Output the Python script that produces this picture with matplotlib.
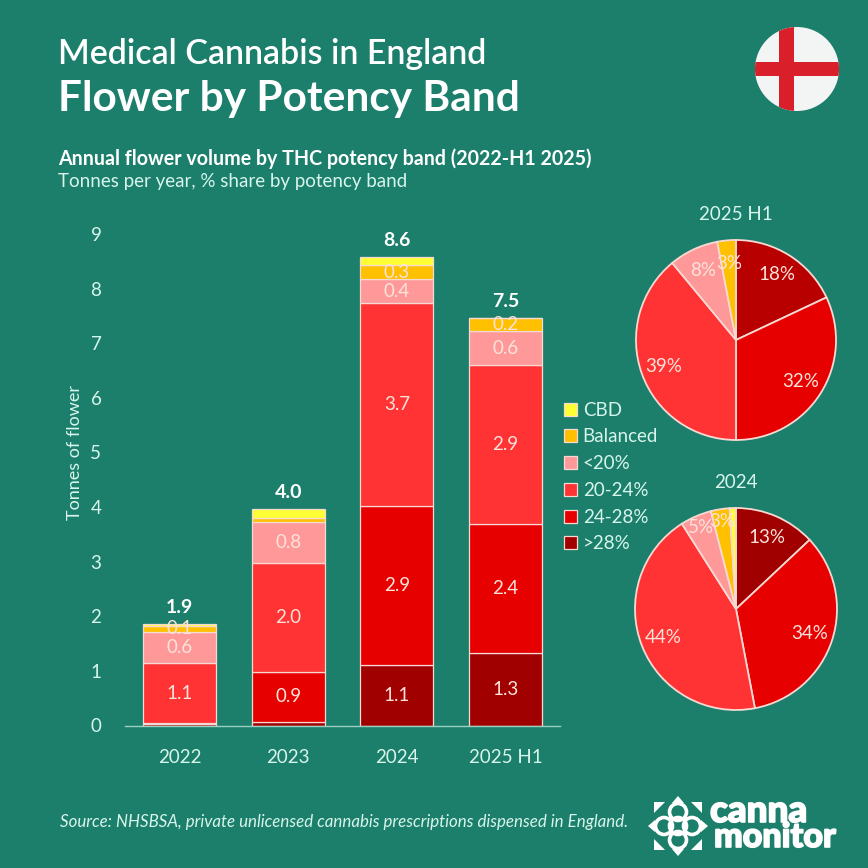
# -*- coding: utf-8 -*-
"""Medical cannabis flower volume in England, by THC potency band: stacked bars plus two share pies."""

import numpy as np
import matplotlib
matplotlib.use("Agg")
import matplotlib.pyplot as plt
import matplotlib.patheffects as pe
from matplotlib.patches import Circle, Polygon, Rectangle

# ---- data ----
YEARS = ["2022", "2023", "2024", "2025 H1"]
BANDS = [">28%", "24-28%", "20-24%", "<20%", "Balanced", "CBD"]

OVER_28 = [0.03, 0.07, 1.11, 1.33]
BAND_24_28 = [0.02, 0.91, 2.91, 2.36]
BAND_20_24 = [1.09, 1.99, 3.72, 2.91]
UNDER_20 = [0.58, 0.75, 0.43, 0.62]
BALANCED = [0.10, 0.08, 0.26, 0.24]
CBD = [0.03, 0.16, 0.14, 0.00]

PIE_2025 = [18, 32, 39, 8, 3]
PIE_2024 = [13, 34, 44, 5, 3, 1]

YTICKS = list(range(10))

# ---- style ----
BG = "#1B7F6B"
MINT = "#D8F5EC"
EDGE = "#F6D9D3"
LABEL = "#FBE3DC"
BAND_COLORS = ["#A00000", "#E60000", "#FF3333", "#FF9999", "#FFC000", "#FFFF33"]
PIE_2025_COLORS = ["#B80000", "#E60000", "#FF3333", "#FF9999", "#FFC000"]
W, H = 868, 868

plt.rcParams["font.family"] = ["Lato", "DejaVu Sans"]


def px_axes(fig, left, top, right, bottom):
    """Add an axes placed by pixel edges (y measured from the top)."""
    return fig.add_axes([left / W, 1 - bottom / H, (right - left) / W, (bottom - top) / H])


def draw_bars(ax):
    series = [OVER_28, BAND_24_28, BAND_20_24, UNDER_20, BALANCED, CBD]
    x = np.arange(len(YEARS))
    bottom = np.zeros(len(YEARS))
    for vals, name, color in zip(series, BANDS, BAND_COLORS):
        vals = np.array(vals)
        ax.bar(x, vals, 0.67, bottom=bottom, color=color, edgecolor=EDGE, linewidth=0.9, label=name)
        # CBD and the very thin slices carry no label
        if name != "CBD":
            for xi, v, b in zip(x, vals, bottom):
                if v >= 0.095:
                    ax.text(xi, b + v / 2, f"{v:.1f}", ha="center", va="center",
                            color=LABEL, fontsize=13.5)
        bottom += vals

    for xi, total in zip(x, bottom):
        ax.annotate(f"{total:.1f}", (xi, total), xytext=(0, 6), textcoords="offset points",
                    ha="center", va="bottom", color="white", fontsize=14, fontweight="bold")

    ax.set_xlim(-0.5, 3.5)
    ax.set_ylim(0, 9)
    ax.set_xticks(x, YEARS)
    ax.set_yticks(YTICKS)
    ax.set_facecolor("none")
    ax.tick_params(axis="x", length=0, pad=17, colors=MINT, labelsize=13.5)
    ax.tick_params(axis="y", length=0, pad=17, colors=MINT, labelsize=13.5)
    for side in ["top", "right", "left"]:
        ax.spines[side].set_visible(False)
    ax.spines["bottom"].set_color("#9CCFC2")
    ax.spines["bottom"].set_linewidth(1)
    ax.set_ylabel("Tonnes of flower", color=MINT, fontsize=13, labelpad=5, y=0.556)


def draw_pie(fig, values, colors, title, cx, cy, r, thin_dist=0.77):
    ax = px_axes(fig, cx - r, cy - r, cx + r, cy + r)
    _, _, autotexts = ax.pie(
        values,
        colors=colors,
        startangle=90,
        counterclock=False,
        radius=1.0,
        # the 1% slice is too thin to label
        autopct=lambda p: f"{p:.0f}%" if p >= 2 else "",
        pctdistance=0.77,
        wedgeprops={"edgecolor": EDGE, "linewidth": 1.3},
        textprops={"color": LABEL, "fontsize": 13.5},
        frame=False,
    )
    # narrow slices push their labels towards the rim
    for value, txt in zip(values, autotexts):
        if value <= 5:
            px, py = txt.get_position()
            txt.set_position((px * thin_dist / 0.77, py * thin_dist / 0.77))
    ax.set_xlim(-1.01, 1.01)
    ax.set_ylim(-1.01, 1.01)
    fig.text(cx / W, 1 - (cy - r - 24) / H, title, ha="center", va="center", color=MINT, fontsize=13.5)


def draw_flag(ov, cx, cy, r):
    disc = Circle((cx, cy), r, facecolor="#F3F4F4", edgecolor="none", zorder=2)
    ov.add_patch(disc)
    for rect in [Rectangle((cx - 18, cy - r), 15, 2 * r, facecolor="#D81F2A", zorder=3),
                 Rectangle((cx - r, cy - 7), 2 * r, 14, facecolor="#D81F2A", zorder=3)]:
        ov.add_patch(rect)
        rect.set_clip_path(disc)


def draw_logo(ov, cx, cy):
    # four petals round a centre ring, points on the axes, squares in the corners
    for dx, dy in [(14, 0), (-14, 0), (0, 14), (0, -14), (0, 0)]:
        ov.add_patch(Circle((cx + dx, cy + dy), 8.5, facecolor="none", edgecolor="white", linewidth=2.6))
    for sx, sy in [(1, 0), (-1, 0), (0, 1), (0, -1)]:
        tip = (cx + sx * 30, cy + sy * 30)
        a = (cx + sx * 23 + sy * 6, cy + sy * 23 + sx * 6)
        b = (cx + sx * 23 - sy * 6, cy + sy * 23 - sx * 6)
        ov.add_patch(Polygon([tip, a, b], facecolor="white", edgecolor="none"))
    for sx in (-1, 1):
        for sy in (-1, 1):
            ov.add_patch(Polygon(
                [(cx + sx * 24, cy + sy * 24), (cx + sx * 13, cy + sy * 24),
                 (cx + sx * 24, cy + sy * 13)],
                facecolor="white", edgecolor="none"))
    heavy = [pe.withStroke(linewidth=1.2, foreground="white")]
    ov.text(cx + 32, cy - 15, "canna", color="white", fontsize=26.5, fontweight="black",
            ha="left", va="center", path_effects=heavy)
    ov.text(cx + 36, cy + 11, "monitor", color="white", fontsize=24.5, fontweight="black",
            ha="left", va="center", path_effects=heavy)


def main():
    fig = plt.figure(figsize=(W / 100, H / 100), dpi=100, facecolor=BG)

    ov = fig.add_axes([0, 0, 1, 1])
    ov.set_xlim(0, W)
    ov.set_ylim(H, 0)
    ov.set_aspect("equal")
    ov.axis("off")

    ov.text(58, 54, "Medical Cannabis in England", color="white", fontsize=24.5,
            fontweight="semibold", va="center")
    ov.text(58, 99, "Flower by Potency Band", color="white", fontsize=30.5,
            fontweight="bold", va="center")
    ov.text(58, 159, "Annual flower volume by THC potency band (2022-H1 2025)", color="white",
            fontsize=14.1, fontweight="bold", va="center")
    ov.text(58, 181, "Tonnes per year, % share by potency band", color=MINT, fontsize=13.5, va="center")
    ov.text(60, 822, "Source: NHSBSA, private unlicensed cannabis prescriptions dispensed in England.",
            color=MINT, fontsize=12.2, style="italic", va="center")
    draw_flag(ov, 797, 69, 42)
    draw_logo(ov, 678, 826)

    ax = px_axes(fig, 125, 234, 560, 725.5)
    draw_bars(ax)

    handles, labels = ax.get_legend_handles_labels()
    fig.legend(handles[::-1], labels[::-1], loc="center left", bbox_to_anchor=(564 / W, 1 - 477 / H),
               frameon=False, fontsize=13.5, labelcolor=MINT, handlelength=0.7, handleheight=0.7,
               handletextpad=0.3, labelspacing=0.52, borderpad=0, borderaxespad=0)

    draw_pie(fig, PIE_2025, PIE_2025_COLORS, "2025 H1", 736, 340, 101)
    draw_pie(fig, PIE_2024, BAND_COLORS, "2024", 736, 609, 102, thin_dist=0.88)

    fig.savefig("out.png", dpi=100, facecolor=BG)


if __name__ == "__main__":
    main()
